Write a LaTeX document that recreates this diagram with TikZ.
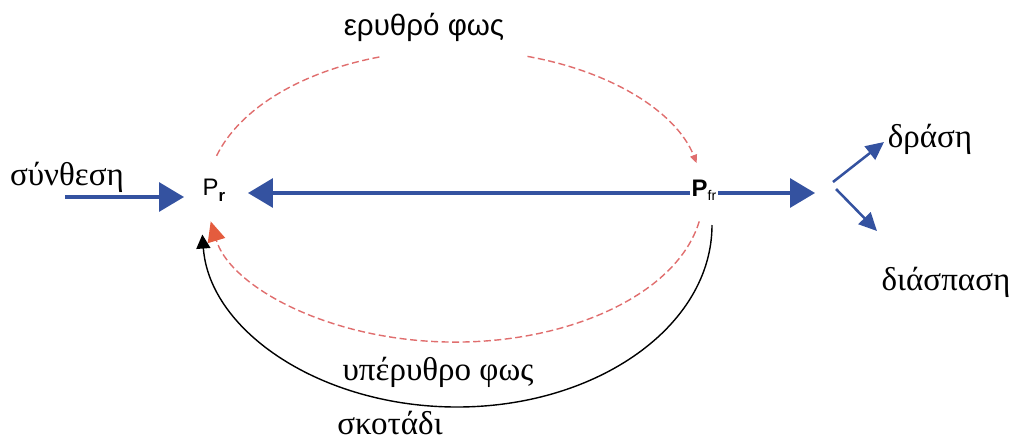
\documentclass[tikz,border=0pt]{standalone}
\usepackage{fontspec}
\setmainfont{Liberation Serif}
\newfontfamily\sansgr{Liberation Sans}
\usetikzlibrary{arrows.meta}
\definecolor{bl}{RGB}{52,82,160}
\definecolor{rd}{RGB}{224,110,110}
\definecolor{rh}{RGB}{228,92,62}
\begin{document}
\begin{tikzpicture}[x=0.025cm,y=0.025cm,
 bigarrow/.style={draw=bl,line width=2.2pt,-{Triangle[length=0.62cm,width=0.72cm,fill=bl]}},
 smallarrow/.style={draw=bl,line width=1.8pt,-{Triangle[length=0.45cm,width=0.42cm,fill=bl]}},
 redarc/.style={draw=rd,line width=1pt,dash pattern=on 5pt off 2.5pt},
 blackarc/.style={draw=black,line width=1pt},
 lbl/.style={font=\fontsize{23.5}{26}\selectfont,inner sep=0pt,anchor=base},
 slbl/.style={font=\sansgr\fontsize{21}{24}\selectfont,inner sep=0pt,anchor=base},
 pnode/.style={font=\sansgr\fontsize{17}{20}\selectfont,inner sep=1pt}]
\useasboundingbox (0,0) rectangle (1011,-442);
% nodes
\node[lbl] (syn) at (67,-185) {σύνθεση};
\node[pnode] (pr) at (214,-190) {P\raisebox{-4pt}{\fontsize{12}{12}\selectfont\bfseries r}};
\node[pnode] (pfr) at (704,-190) {\textbf{P}\raisebox{-3pt}{\fontsize{10}{10}\selectfont fr}};
\node[lbl] (drasi) at (930,-147) {δράση};
\node[lbl] (diasp) at (946,-290) {διάσπαση};
\node[slbl] (red) at (424,-35) {ερυθρό φως};
\node[lbl] (ir) at (438,-380) {υπέρυθρο φως};
\node[lbl] (dark) at (390,-434) {σκοτάδι};
% coordinates
\coordinate (s0) at (65,-197);
\coordinate (s1) at (184,-197);
\coordinate (m1) at (248,-193);
\coordinate (r1) at (815,-193);
\coordinate (f1) at (833,-182);
\coordinate (f1t) at (884,-142);
\coordinate (f2) at (836,-189);
\coordinate (f2t) at (877,-231);
\coordinate (ru1) at (216.6,-155.8);
\coordinate (ru2) at (527.5,-56.4);
\coordinate (rl1) at (699.2,-221.4);
\coordinate (bk1) at (712,-225);
% blue arrows
\draw[bigarrow] (s0) -- (s1);
\draw[bigarrow] (pfr.west |- m1) -- (m1);
\draw[bigarrow] (pfr.east |- r1) -- (r1);
\draw[smallarrow] (f1) -- (f1t);
\draw[smallarrow] (f2) -- (f2t);
% red arcs
\draw[redarc] (ru1) arc[start angle=164,end angle=107,x radius=248,y radius=146];
\draw[redarc,-{Triangle[length=6pt,width=5pt,fill=rd,color=rd]}] (ru2) arc[start angle=73,end angle=13,x radius=248,y radius=146];
\draw[redarc,-{Triangle[length=0.5cm,width=0.45cm,color=rh,fill=rh]}] (rl1) arc[start angle=-10,end angle=-170,x radius=248,y radius=146];
% black arc
\draw[blackarc,-{Triangle[length=0.35cm,width=0.35cm]}] (bk1) arc[start angle=0,end angle=-177,x radius=255,y radius=182];
\end{tikzpicture}
\end{document}
